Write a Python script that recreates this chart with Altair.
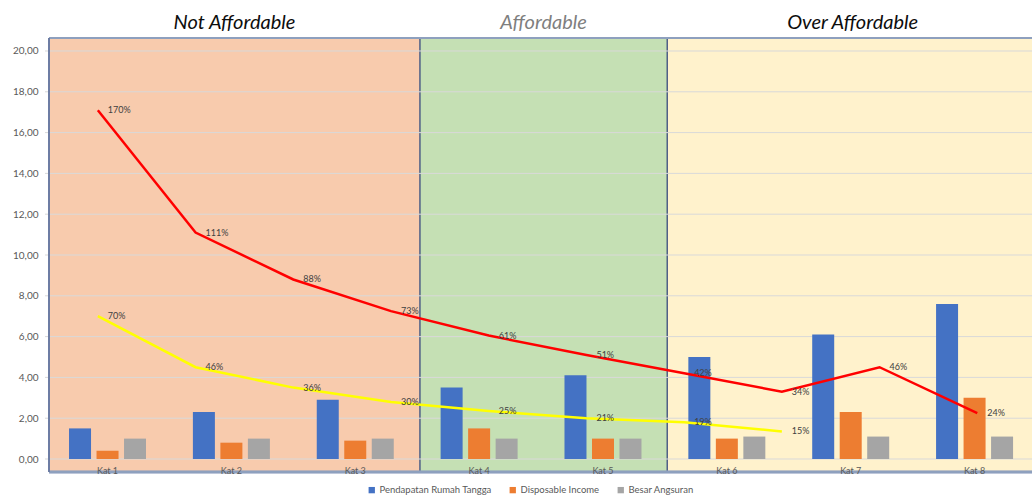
import altair as alt
import pandas as pd

# ---------------- data ----------------
categories = ["Kat 1", "Kat 2", "Kat 3", "Kat 4", "Kat 5", "Kat 6", "Kat 7", "Kat 8"]
series_names = ["Pendapatan Rumah Tangga", "Disposable Income", "Besar Angsuran"]
series_colors = ["#4472C4", "#ED7D31", "#A5A5A5"]
pendapatan = [1.5, 2.3, 2.9, 3.5, 4.1, 5.0, 6.1, 7.6]
disposable = [0.4, 0.8, 0.9, 1.5, 1.0, 1.0, 2.3, 3.0]
angsuran = [1.0, 1.0, 1.0, 1.0, 1.0, 1.1, 1.1, 1.1]

red_values = [17.1, 11.1, 8.8, 7.25, 6.05, 5.1, 4.2, 3.3, 4.5, 2.25]
red_labels = ["170%", "111%", "88%", "73%", "61%", "51%", "42%", "34%", "46%", "24%"]
yellow_values = [7.0, 4.5, 3.5, 2.8, 2.35, 2.0, 1.8, 1.35]
yellow_labels = ["70%", "46%", "36%", "30%", "25%", "21%", "19%", "15%"]

zone_names = ["Not Affordable", "Affordable", "Over Affordable"]
zone_start = [0.5, 3.5, 5.5]   # in category units
zone_end = [3.5, 5.5, 8.5]
zone_fill = ["#F8CBAD", "#C5E0B4", "#FFF2CC"]
zone_title_color = ["#0D0D0D", "#7F7F7F", "#0D0D0D"]

y_ticks = [0, 2, 4, 6, 8, 10, 12, 14, 16, 18, 20]

# ---------------- tables ----------------
bars = pd.DataFrame({
    "cat": categories * 3,
    "series": [s for s in series_names for _ in categories],
    "value": pendapatan + disposable + angsuran,
})
zones = pd.DataFrame({"zone": zone_names, "start": zone_start, "end": zone_end,
                      "fill": zone_fill, "tcolor": zone_title_color})
lines = pd.DataFrame({
    "idx": list(range(1, len(red_values) + 1)) + list(range(1, len(yellow_values) + 1)),
    "value": red_values + yellow_values,
    "label": red_labels + yellow_labels,
    "line": ["ratio1"] * len(red_values) + ["ratio2"] * len(yellow_values),
    "stroke": ["#FF0000"] * len(red_values) + ["#FFFF00"] * len(yellow_values),
})
grid = pd.DataFrame({"tick": y_ticks})

W, H = 983, 434
FONT = "Lato"
yscale = alt.Scale(domain=[-0.637, 20.637], nice=False, zero=False)
yaxis = alt.Axis(values=y_ticks, title=None, grid=False, ticks=False, domain=False,
                 labelExpr="replace(format(datum.value, '.2f'), '.', ',')",
                 labelPadding=11, labelFontSize=10, labelColor="#595959", labelFont=FONT)

zscale = alt.Scale(domain=[0.5, 8.45], nice=False, zero=False)

zone_rect = alt.Chart(zones).mark_rect(clip=True).encode(
    x=alt.X("start:Q", scale=zscale, axis=None),
    x2="end:Q",
    y=alt.value(0), y2=alt.value(H),
    fill=alt.Fill("fill:N", scale=None),
)
zone_title = alt.Chart(zones).transform_calculate(
    center="(datum.start + datum.end) / 2"
).mark_text(font=FONT, fontSize=20, fontStyle="italic", baseline="middle").encode(
    x=alt.X("center:Q", scale=zscale, axis=None),
    y=alt.value(-15),
    text="zone:N",
    color=alt.Color("tcolor:N", scale=None),
)
dividers = alt.Chart(zones).transform_filter("datum.end < 8").mark_rule(
    color="#4F5F86", strokeWidth=1.5
).encode(
    x=alt.X("end:Q", scale=zscale, axis=None),
    y=alt.value(0), y2=alt.value(H),
)
zone_layer = alt.layer(zone_rect, dividers, zone_title)

grid_rules = alt.Chart(grid).mark_rule(color="#D9D9D9", strokeWidth=1).encode(
    y=alt.Y("tick:Q", scale=yscale, axis=yaxis),
    x=alt.value(-4), x2=alt.value(W),
)

bar_layer = alt.Chart(bars).mark_bar().encode(
    x=alt.X("cat:N", sort=categories,
            scale=alt.Scale(domain=categories, range=[-3.4, 987.5],
                            paddingInner=0.334, paddingOuter=0.167),
            axis=alt.Axis(title=None, domain=False, ticks=False, grid=False,
                          labelAngle=0, labelFontSize=9, labelColor="#595959",
                          labelFont=FONT, offset=-7, labelPadding=1, zindex=2)),
    xOffset=alt.XOffset("series:N", sort=series_names,
                        scale=alt.Scale(domain=series_names, paddingInner=0.2, paddingOuter=0.1)),
    y=alt.Y("value:Q", scale=yscale, axis=yaxis),
    color=alt.Color("series:N", sort=series_names,
                    scale=alt.Scale(domain=series_names, range=series_colors),
                    legend=alt.Legend(orient="none", legendX=318, legendY=447,
                                      direction="horizontal", title=None,
                                      symbolType="square", symbolSize=40,
                                      symbolStrokeWidth=0,
                                      labelFontSize=9.5, labelColor="#595959",
                                      labelFont=FONT, columnPadding=16, labelOffset=3)),
)

lscale = alt.Scale(domain=[0.5, 10.56], nice=False, zero=False)
line_marks = alt.Chart(lines).mark_line(strokeWidth=2.5).encode(
    x=alt.X("idx:Q", scale=lscale, axis=None),
    y=alt.Y("value:Q", scale=yscale, axis=yaxis),
    detail="line:N",
    stroke=alt.Stroke("stroke:N", scale=None),
)
line_labels = alt.Chart(lines).mark_text(
    align="left", baseline="middle", dx=10, fontSize=9, font=FONT, color="#404040"
).encode(
    x=alt.X("idx:Q", scale=lscale, axis=None),
    y=alt.Y("value:Q", scale=yscale, axis=yaxis),
    text="label:N",
)
line_layer = alt.layer(line_marks, line_labels)

frame_top = alt.Chart(zones).mark_rule(color="#8EA0BE", strokeWidth=2).encode(
    x=alt.value(0), x2=alt.value(W), y=alt.value(0))
frame_bottom = alt.Chart(zones).mark_rule(color="#8EA0BE", strokeWidth=2.5).encode(
    x=alt.value(0), x2=alt.value(W), y=alt.value(H))
frame_left = alt.Chart(zones).mark_rule(color="#6B7BA3", strokeWidth=1.5).encode(
    x=alt.value(0), y=alt.value(0), y2=alt.value(H))

chart = alt.layer(
    zone_layer, grid_rules, bar_layer, line_layer, frame_top, frame_bottom, frame_left
).resolve_scale(x="independent").properties(
    width=W, height=H,
    padding={"left": 49, "top": 38, "right": 0, "bottom": 23},
    autosize=alt.AutoSizeParams(type="none"),
    background="white",
).configure_view(stroke=None)

chart.save("out.html", embed_options={"renderer": "svg", "actions": False})
